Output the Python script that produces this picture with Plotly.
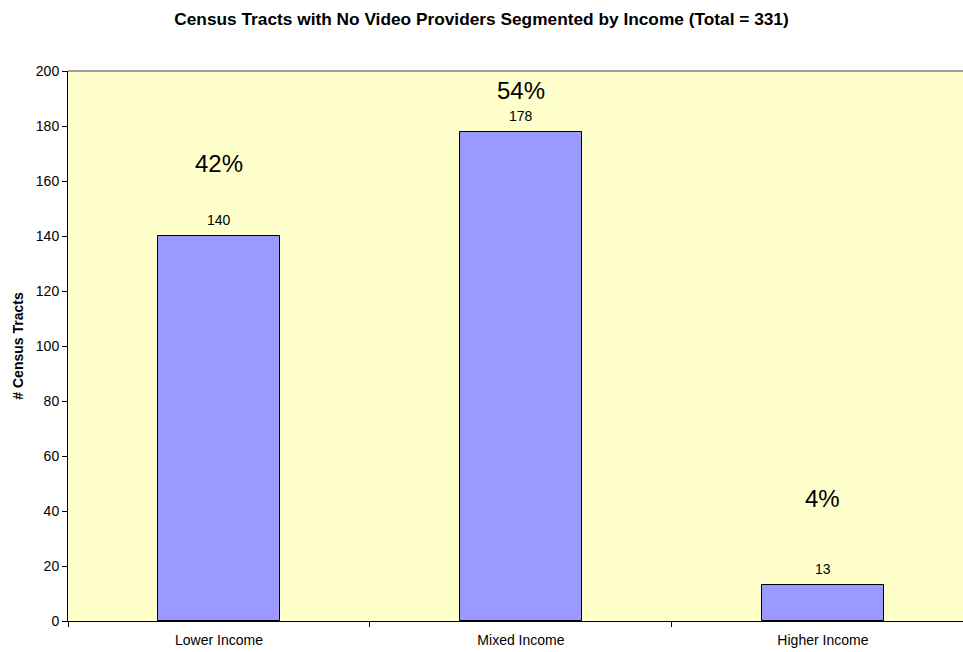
import plotly.graph_objects as go

# Dados
categorias = ['Lower Income', 'Mixed Income', 'Higher Income']
quantidades = [140, 178, 13]
total = 331
percentuais = ['42%', '54%', '4%']
# altura (em unidades do eixo y) onde os rótulos de percentual ficam
altura_percentual = [166.5, 193, 44.5]

fonte = 'Liberation Sans, Arial, sans-serif'

fig = go.Figure()

fig.add_trace(go.Bar(
    x=categorias,
    y=quantidades,
    width=0.404,
    marker=dict(color='#9999FF', line=dict(color='black', width=1)),
    hoverinfo='x+y',
))

# rótulos de valor acima das barras
for cat, q in zip(categorias, quantidades):
    fig.add_annotation(x=cat, y=q, text=str(q), showarrow=False,
                       yanchor='bottom', yshift=6,
                       font=dict(family=fonte, size=14, color='black'))

# rótulos de percentual
for cat, pct, y in zip(categorias, percentuais, altura_percentual):
    fig.add_annotation(x=cat, y=y, text=pct, showarrow=False,
                       font=dict(family=fonte, size=24, color='black'))

fig.update_layout(
    width=963, height=652,
    margin=dict(t=71, b=31, l=68, r=0, pad=0),
    paper_bgcolor='white',
    plot_bgcolor='#FFFFCC',
    showlegend=False,
    font=dict(family=fonte, size=14, color='black'),
    title=dict(
        text='<b>Census Tracts with No Video Providers Segmented by Income (Total = %d)</b>' % total,
        x=0.5, xanchor='center', xref='container', y=0.971, yanchor='middle',
        font=dict(size=17.3),
    ),
    xaxis=dict(
        range=[-0.5, 2.464],
        showline=True, linecolor='black', linewidth=1,
        ticks='outside', tickson='boundaries', ticklen=5, tickcolor='black',
        showgrid=False,
        tickfont=dict(size=14),
        ticklabelstandoff=6,
    ),
    yaxis=dict(
        range=[0, 200], dtick=20,
        showline=True, linecolor='black', linewidth=1,
        ticks='outside', ticklen=5, tickcolor='black',
        showgrid=False, zeroline=False,
        tickfont=dict(size=14),
        title=dict(text='<b># Census Tracts</b>', font=dict(size=14), standoff=8),
    ),
    bargap=0,
)

# borda superior cinza do plot
fig.add_shape(type='line', xref='paper', yref='paper', x0=0, x1=1, y0=1, y1=1,
              line=dict(color='#A0A0A0', width=2))

# tira a margem padrão do body para a figura ocupar a janela toda
fig.write_html("out.html", config={'displayModeBar': False},
               post_script="document.body.style.margin='0';")
